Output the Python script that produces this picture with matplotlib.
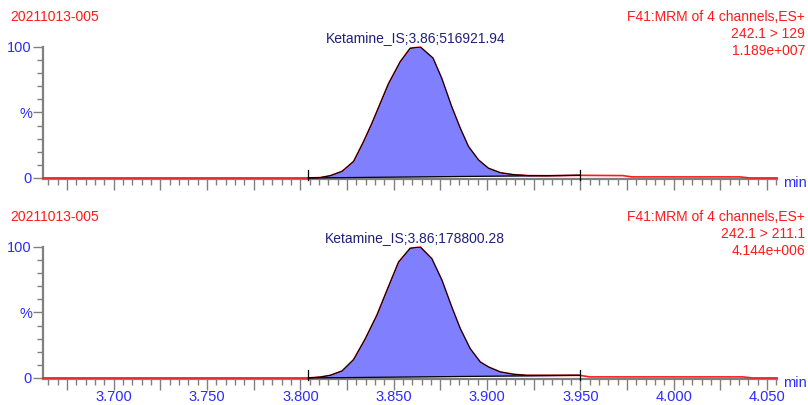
import numpy as np
import matplotlib
matplotlib.use("Agg")
import matplotlib.pyplot as plt
from matplotlib.ticker import MultipleLocator, FuncFormatter

plt.rcParams['font.family'] = ['Liberation Sans', 'DejaVu Sans']

# chromatogram traces (time in min, intensity in %)
t_top = [3.6621, 3.8043, 3.8107, 3.816, 3.8223, 3.8285, 3.8339, 3.8383, 3.8428,
         3.8472, 3.8535, 3.8588, 3.8642, 3.871, 3.8757, 3.881, 3.8856, 3.89,
         3.8954, 3.9007, 3.907, 3.914, 3.922, 3.9319, 3.9497, 3.9727, 3.9775,
         4.0353, 4.0406, 4.0553]
i_top = [0, 0, 0.3, 1.7, 5, 12.6, 27.9, 41.7, 57, 72, 88.8, 99, 100, 91.5, 76,
         54.5, 38, 24, 13.7, 7.4, 4, 2.5, 1.8, 1.7, 2.0, 1.8, 0.8, 0.8, 0, 0]

t_bot = [3.6621, 3.8043, 3.8107, 3.816, 3.8223, 3.8285, 3.8348, 3.841, 3.8464,
         3.8526, 3.8588, 3.8642, 3.8704, 3.8758, 3.8811, 3.8856, 3.8909, 3.8963,
         3.9007, 3.907, 3.9141, 3.9212, 3.9497, 3.955, 4.0369, 4.0422, 4.0553]
i_bot = [0, 0, 0.7, 2, 5.3, 14, 30, 48, 67, 88.5, 99, 100, 91, 74.6, 54, 37.7,
         22.4, 12.2, 8.4, 4.6, 2.8, 2, 2, 0.8, 0.8, 0, 0]

peak_start = 3.8043
peak_end = 3.9497
apex = 3.8615

sample = "20211013-005"
func_line = "F41:MRM of 4 channels,ES+"
transitions = ["242.1 > 129", "242.1 > 211.1"]
max_int = ["1.189e+007", "4.144e+006"]
peak_labels = ["Ketamine_IS;3.86;516921.94", "Ketamine_IS;3.86;178800.28"]

RED = '#ff1a1a'
BLUE = '#2b2bff'
NAVY = '#1f1f7a'
GRAY = '#808080'
FILL = '#8080ff'

W, H = 808, 405
fig = plt.figure(figsize=(W / 100, H / 100), dpi=100)


def px(x, y):
    return x / W, 1 - y / H


def draw_panel(y_axis, t, inten, idx, show_labels):
    ax = fig.add_axes([43 / W, (H - y_axis) / H, 734 / W, 132 / H])
    ax.set_xlim(3.6621, 4.0553)
    ax.set_ylim(-0.8, 100)
    t = np.array(t)
    inten = np.array(inten)

    # raw trace, on top of the spine
    ax.plot(t, inten, color=RED, lw=1.2, zorder=2.6, clip_on=False)

    # integrated peak
    m = (t >= peak_start) & (t <= peak_end)
    tp, ip = t[m], inten[m]
    base = np.interp(tp, [tp[0], tp[-1]], [ip[0], ip[-1]])
    ax.fill_between(tp, base, ip, color=FILL, lw=0, zorder=3)
    ax.plot(tp, ip, color='black', lw=0.8, zorder=4)
    ax.plot([tp[0], tp[-1]], [ip[0], ip[-1]], color='black', lw=0.9, zorder=4)
    for x in (peak_start, peak_end):
        ax.plot([x, x], [-1.5, 6], color='black', lw=0.9, zorder=4, clip_on=False)

    ax.text(apex, 101.5, peak_labels[idx], color=NAVY, fontsize=10,
            ha='center', va='bottom', clip_on=False)

    for s in ['top', 'right']:
        ax.spines[s].set_visible(False)
    for s in ['left', 'bottom']:
        ax.spines[s].set_color(GRAY)
        ax.spines[s].set_linewidth(1.6)
    ax.spines['left'].set_bounds(-0.8, 100)

    ax.set_yticks([0, 50, 100])
    ax.set_yticklabels(['0', '%', '100'])
    ax.yaxis.set_minor_locator(MultipleLocator(10))
    ax.xaxis.set_major_locator(MultipleLocator(0.025))
    ax.xaxis.set_minor_locator(MultipleLocator(0.005))
    if show_labels:
        ax.xaxis.set_major_formatter(FuncFormatter(
            lambda v, p: '%.3f' % v if abs(v * 20 - round(v * 20)) < 1e-6 else ''))
    else:
        ax.set_xticklabels([])
    ax.tick_params(axis='x', which='major', length=8, width=1, color=GRAY,
                   labelcolor=BLUE, labelsize=10.5, pad=0)
    ax.tick_params(axis='x', which='minor', length=4, width=1, color=GRAY)
    ax.tick_params(axis='y', which='major', length=7, width=1, color=GRAY,
                   labelcolor=BLUE, labelsize=10.5, pad=1)
    ax.tick_params(axis='y', which='minor', length=4, width=1, color=GRAY)
    ax.patch.set_alpha(0)

    top = y_axis - 162
    fig.text(*px(10, top), sample, color=RED, fontsize=10, va='center')
    fig.text(*px(805, top), func_line, color=RED, fontsize=10, va='center', ha='right')
    fig.text(*px(805, top + 17), transitions[idx], color=RED, fontsize=10,
             va='center', ha='right')
    fig.text(*px(805, top + 34), max_int[idx], color=RED, fontsize=10,
             va='center', ha='right')
    fig.text(*px(783, y_axis + 4), 'min', color=BLUE, fontsize=10.5, va='center')
    return ax


draw_panel(179, t_top, i_top, 0, False)
draw_panel(379, t_bot, i_bot, 1, True)

fig.savefig('out.png', dpi=100)
